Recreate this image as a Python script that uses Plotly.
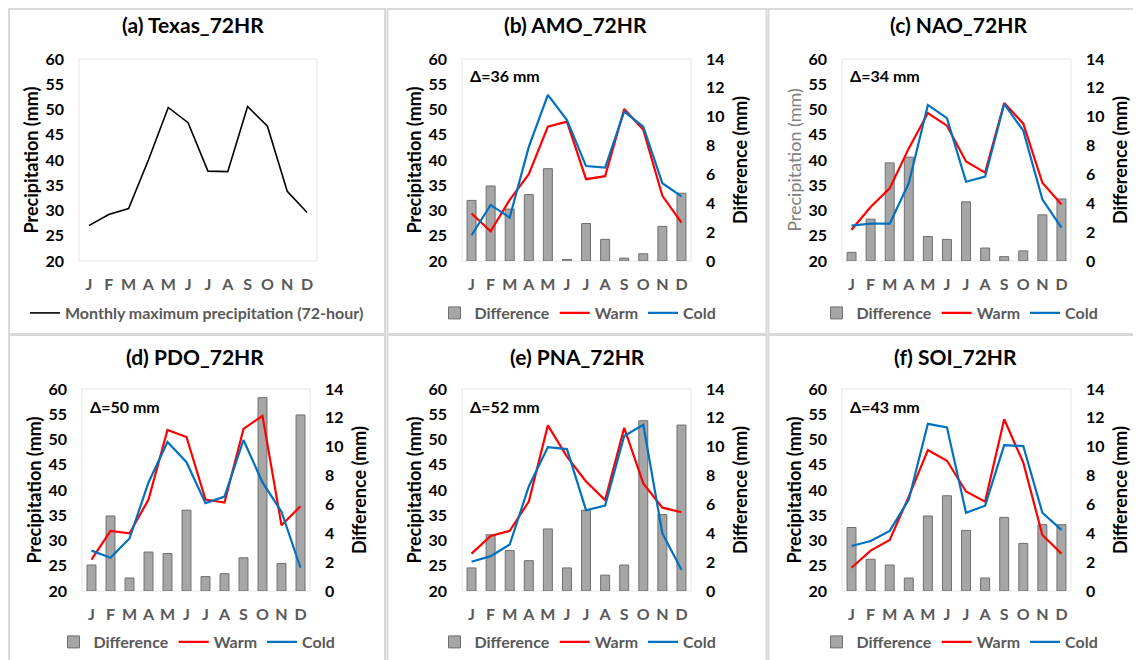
import plotly.graph_objects as go

months = ["J", "F", "M", "A", "M", "J", "J", "A", "S", "O", "N", "D"]

texas_max = [27.0, 29.2, 30.4, 40.0, 50.4, 47.4, 37.8, 37.7, 50.6, 46.7, 33.8, 29.6]

amo_diff = [4.2, 5.2, 3.6, 4.6, 6.4, 0.1, 2.6, 1.5, 0.2, 0.5, 2.4, 4.7]
amo_warm = [29.4, 25.9, 32.1, 37.2, 46.6, 47.6, 36.2, 36.8, 50.1, 46.0, 32.9, 27.6]
amo_cold = [25.1, 31.1, 28.6, 42.6, 52.9, 47.9, 38.8, 38.5, 49.6, 46.6, 35.4, 32.8]

nao_diff = [0.6, 2.9, 6.8, 7.2, 1.7, 1.5, 4.1, 0.9, 0.3, 0.7, 3.2, 4.3]
nao_warm = [26.2, 30.7, 34.4, 42.3, 49.3, 46.8, 39.7, 37.5, 51.3, 47.2, 35.5, 31.2]
nao_cold = [27.0, 27.4, 27.4, 35.4, 50.9, 48.3, 35.7, 36.7, 51.1, 45.8, 32.2, 26.6]

pdo_diff = [1.8, 5.2, 0.9, 2.7, 2.6, 5.6, 1.0, 1.2, 2.3, 13.4, 1.9, 12.2]
pdo_warm = [26.2, 31.9, 31.4, 38.1, 51.9, 50.5, 38.1, 37.5, 52.1, 54.7, 33.0, 36.8]
pdo_cold = [28.0, 26.6, 30.4, 41.5, 49.5, 45.5, 37.4, 38.7, 49.9, 41.5, 35.7, 24.6]

pna_diff = [1.6, 3.9, 2.8, 2.1, 4.3, 1.6, 5.6, 1.1, 1.8, 11.8, 5.3, 11.5]
pna_warm = [27.4, 30.9, 31.9, 37.7, 52.8, 46.6, 41.7, 38.0, 52.3, 41.3, 36.5, 35.6]
pna_cold = [25.8, 26.9, 29.2, 40.7, 48.5, 48.1, 36.0, 36.9, 50.7, 52.9, 31.4, 24.2]

soi_diff = [4.4, 2.2, 1.8, 0.9, 5.2, 6.6, 4.2, 0.9, 5.1, 3.3, 4.6, 4.6]
soi_warm = [24.6, 28.0, 30.1, 38.7, 47.9, 45.8, 39.7, 37.7, 54.0, 45.4, 31.1, 27.4]
soi_cold = [28.9, 29.9, 31.9, 38.1, 53.1, 52.4, 35.5, 36.9, 48.9, 48.7, 35.5, 32.1]

titles = ["(a) Texas_72HR", "(b) AMO_72HR", "(c) NAO_72HR",
          "(d) PDO_72HR", "(e) PNA_72HR", "(f) SOI_72HR"]
deltas = [None, "Δ=36 mm", "Δ=34 mm", "Δ=50 mm", "Δ=52 mm", "Δ=43 mm"]
panel_series = [None,
                (amo_diff, amo_warm, amo_cold),
                (nao_diff, nao_warm, nao_cold),
                (pdo_diff, pdo_warm, pdo_cold),
                (pna_diff, pna_warm, pna_cold),
                (soi_diff, soi_warm, soi_cold)]

# the page body adds an 8px offset; figure is sized to fill the rest of the window
OFF = 8
W, H = 1141 - OFF, 660 - OFF
FONT = "Lato"
xpos = list(range(1, len(months) + 1))


def fx(px):
    return (px - OFF) / W


def fy(py):
    return 1 - (py - OFF) / H


# plot-area pixel boxes in window coordinates (x0, x1, ytop, ybottom)
boxes = [(79, 317, 59, 261), (462, 691, 59, 261), (842, 1071, 59, 261),
         (82, 310, 389, 591), (462, 691, 389, 591), (842, 1071, 389, 591)]
title_pos = [(193, 25), (575, 25), (958, 25), (195, 356), (577, 356), (955, 356)]
legend_pos = [(197, 313), (578, 313), (960, 313), (197, 642), (578, 642), (960, 642)]

fig = go.Figure()
layout = dict(template="none", width=W, height=H,
              margin=dict(l=0, r=0, t=0, b=0, autoexpand=False),
              paper_bgcolor="white", plot_bgcolor="white", showlegend=True,
              font=dict(family=FONT, color="black"))
annotations = []
shapes = []

tickfont_y = dict(family=FONT, size=16, color="black", weight="bold")
tickfont_x = dict(family=FONT, size=16, color="#595959", weight="bold")
titlefont = dict(family=FONT, size=18, color="black", weight="bold")

for i in range(6):
    n = i + 1
    x0, x1, yt, yb = boxes[i]
    xdom = [fx(x0), fx(x1)]
    ydom = [fy(yb), fy(yt)]
    xa = "xaxis" if n == 1 else f"xaxis{n}"
    xr = "x" if n == 1 else f"x{n}"
    ya = "yaxis" if n == 1 else f"yaxis{n}"
    yr = "y" if n == 1 else f"y{n}"
    leg = "legend" if n == 1 else f"legend{n}"

    layout[xa] = dict(domain=xdom, anchor=yr, range=[0.5, 12.5], automargin=False,
                      tickvals=xpos, ticktext=months, tickfont=tickfont_x,
                      showgrid=False, showline=False, zeroline=False,
                      ticks="", ticklabelstandoff=12, fixedrange=True)

    if n == 1:
        layout[ya] = dict(domain=ydom, anchor=xr, range=[20, 60], dtick=5, automargin=False,
                          tickfont=tickfont_y, showgrid=False, zeroline=False, showline=False,
                          ticks="", ticklabelstandoff=14, side="left",
                          title=dict(text="Precipitation (mm)", font=titlefont, standoff=2))
        fig.add_trace(go.Scatter(x=xpos, y=texas_max, mode="lines", xaxis=xr, yaxis=yr,
                                 line=dict(color="black", width=1.6),
                                 name="Monthly maximum precipitation (72-hour)",
                                 legend=leg))
    else:
        diff, warm, cold = panel_series[i]
        ya2 = f"yaxis{n + 6}"
        yr2 = f"y{n + 6}"
        layout[ya] = dict(domain=ydom, anchor=xr, range=[0, 14], dtick=2, automargin=False,
                          tickfont=tickfont_y, showgrid=False, zeroline=False, showline=False,
                          ticks="", ticklabelstandoff=14, side="right",
                          title=dict(text="Difference (mm)", font=titlefont, standoff=10))
        ltitle = dict(titlefont)
        if n == 3:
            ltitle = dict(family=FONT, size=18, color="#808080", weight="normal")
        layout[ya2] = dict(domain=ydom, anchor=xr, overlaying=yr, range=[20, 60], dtick=5,
                           automargin=False, showline=False,
                           tickfont=tickfont_y, showgrid=False, zeroline=False,
                           ticks="", ticklabelstandoff=14, side="left",
                           title=dict(text="Precipitation (mm)", font=ltitle, standoff=2))
        fig.add_trace(go.Bar(x=xpos, y=diff, xaxis=xr, yaxis=yr, width=0.47,
                             marker=dict(color="#a6a6a6", line=dict(color="#6f6f6f", width=1)),
                             name="Difference", legend=leg))
        fig.add_trace(go.Scatter(x=xpos, y=warm, mode="lines", xaxis=xr, yaxis=yr2,
                                 line=dict(color="#ff0000", width=2.2),
                                 name="Warm", legend=leg))
        fig.add_trace(go.Scatter(x=xpos, y=cold, mode="lines", xaxis=xr, yaxis=yr2,
                                 line=dict(color="#0070c0", width=2.2),
                                 name="Cold", legend=leg))
        annotations.append(dict(text=deltas[i], xref=f"{xr} domain", yref=f"{yr} domain",
                                x=6 / (x1 - x0), y=1 - 17 / (yb - yt),
                                xanchor="left", yanchor="middle", showarrow=False,
                                font=dict(family=FONT, size=16, color="black", weight="bold")))

    # plot-area border
    shapes.append(dict(type="rect", xref=f"{xr} domain", yref=f"{yr} domain",
                       x0=0, x1=1, y0=0, y1=1, line=dict(color="#e6e6e6", width=1),
                       layer="below"))

    tx, ty = title_pos[i]
    annotations.append(dict(text=titles[i], xref="paper", yref="paper",
                            x=fx(tx), y=fy(ty), xanchor="center", yanchor="middle",
                            showarrow=False,
                            font=dict(family=FONT, size=21, color="black", weight="bold")))

    lx, ly = legend_pos[i]
    layout[leg] = dict(orientation="h", x=fx(lx), y=fy(ly), xanchor="center",
                       yanchor="middle", bgcolor="rgba(0,0,0,0)", borderwidth=0,
                       font=dict(family=FONT, size=16, color="#595959", weight="bold"),
                       itemwidth=30, tracegroupgap=0)

# panel frames (clamped to the visible figure area)
frame = dict(color="#d9d9d9", width=2)
for (px0, px1, py0, py1) in [(6.5, 385, 5, 334), (387.5, 766.5, 5, 334),
                             (768.5, 1160, 5, 334), (6.5, 385, 335, 680),
                             (387.5, 766.5, 335, 680), (768.5, 1160, 335, 680)]:
    px0 = max(px0, OFF + 1)
    py0 = max(py0, OFF + 1)
    shapes.append(dict(type="rect", xref="paper", yref="paper",
                       x0=fx(px0), x1=fx(px1), y0=fy(py1), y1=fy(py0),
                       line=frame, layer="below"))

layout["annotations"] = annotations
layout["shapes"] = shapes
fig.update_layout(**layout)
fig.write_html("out.html")
